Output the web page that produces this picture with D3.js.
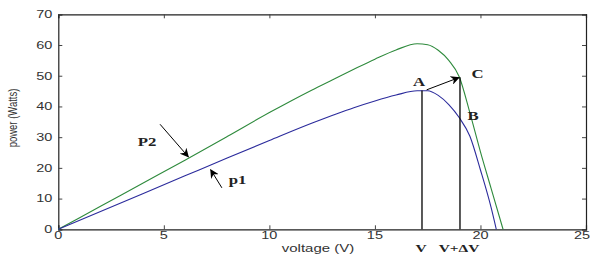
<!DOCTYPE html>
<html><head><meta charset="utf-8">
<script src="https://cdn.jsdelivr.net/npm/d3@7"></script>
<style>html,body{margin:0;padding:0;background:#fff;}</style>
</head><body>
<svg id="chart" width="590" height="254"></svg>
<script>
// Data
const voltageP1 = [0,2,4,6,8,10,12,13,14,15,16,17,17.5,18,18.5,19,19.5,20,20.5,20.75];
const powerP1   = [0,5.8,11.6,17.4,23.2,28.9,34.5,37.1,39.6,41.8,43.7,45.1,45.1,43.6,40.6,36.3,30.3,19.3,7.2,0];
const voltageP2 = [0,2,4,6,8,10,12,13,14,15,16,17,17.5,18,18.5,19,19.5,20,20.5,21.07];
const powerP2   = [0,7.5,15,22.5,30.2,38,45.3,48.7,52.1,55.4,58.4,60.4,60.1,58.3,55,49.6,37.9,25.2,13.4,0];
const xTicks = [0,5,10,15,20,25];
const yTicks = [0,10,20,30,40,50,60,70];
const V = 17.23, VdV = 19.03;
const A = [17.23, 45.2], C = [19.03, 49.5], B = [19.03, 36.3];

const svg = d3.select("#chart");
const x = d3.scaleLinear().domain([0,25]).range([58.3,586]);
const y = d3.scaleLinear().domain([0,70]).range([229.3,14.3]);
const green = "#2e8a3c", blue = "#2b2b9c";
const SX = 1.45; // horizontal stretch of the source picture's text

const defs = svg.append("defs");
defs.append("marker").attr("id","ah").attr("viewBox","0 0 10 10")
  .attr("refX",9).attr("refY",5).attr("markerWidth",9).attr("markerHeight",9)
  .attr("markerUnits","userSpaceOnUse").attr("orient","auto")
  .append("path").attr("d","M0,0 L10,5 L0,10 L3,5 Z").attr("fill","#000");

// axes (MATLAB style, inward ticks on all sides)
const ax = svg.append("g").attr("transform",`translate(0,${y(0)})`)
  .call(d3.axisBottom(x).tickValues(xTicks).tickSize(-4).tickFormat(""));
const axT = svg.append("g").attr("transform",`translate(0,${y(70)})`)
  .call(d3.axisTop(x).tickValues(xTicks).tickSize(-4).tickFormat(""));
const ay = svg.append("g").attr("transform",`translate(${x(0)},0)`)
  .call(d3.axisLeft(y).tickValues(yTicks).tickSize(-4).tickFormat(""));
const ayR = svg.append("g").attr("transform",`translate(${x(25)},0)`)
  .call(d3.axisRight(y).tickValues(yTicks).tickSize(-4).tickFormat(""));
[ax,axT,ay,ayR].forEach(g=>{
  g.select(".domain").attr("stroke","#222").attr("stroke-width",1.2);
  g.selectAll(".tick line").attr("stroke","#444");
});

// stretched text helper
function stext(t,px,py,opts){
  const o = Object.assign({size:10.5,family:"'Liberation Sans', Arial, sans-serif",anchor:"middle",fill:"#333",sx:SX,weight:"normal"},opts||{});
  return svg.append("text").attr("transform",`translate(${px},${py}) scale(${o.sx},1)`)
    .attr("text-anchor",o.anchor).style("font-family",o.family).style("font-size",o.size+"px")
    .style("font-weight",o.weight).attr("fill",o.fill).text(t);
}
// tick labels
xTicks.forEach(v=>{
  const px = v===25 ? x(v)-4 : x(v);
  stext(d3.format("d")(v), px, y(0)+10, {size:10});
});
yTicks.forEach(v=>{
  stext(d3.format("d")(v), x(0)-6, y(v)+3.8, {size:10, anchor:"end"});
});

// curves
const line = d3.line().x(d=>x(d[0])).y(d=>y(d[1])).curve(d3.curveMonotoneX);
svg.append("path").datum(voltageP2.map((v,i)=>[v,powerP2[i]]))
  .attr("d",line).attr("fill","none").attr("stroke",green).attr("stroke-width",1.1);
svg.append("path").datum(voltageP1.map((v,i)=>[v,powerP1[i]]))
  .attr("d",line).attr("fill","none").attr("stroke",blue).attr("stroke-width",1.1);

// vertical lines
svg.append("line").attr("x1",x(V)).attr("x2",x(V)).attr("y1",y(0)).attr("y2",y(A[1]))
  .attr("stroke","#000").attr("stroke-width",1.3);
svg.append("line").attr("x1",x(VdV)).attr("x2",x(VdV)).attr("y1",y(0)).attr("y2",y(C[1]))
  .attr("stroke","#000").attr("stroke-width",1.3);

// arrows
function arrow(x1,y1,x2,y2){
  svg.append("line").attr("x1",x(x1)).attr("y1",y(y1)).attr("x2",x(x2)).attr("y2",y(y2))
    .attr("stroke","#000").attr("stroke-width",1).attr("marker-end","url(#ah)");
}
arrow(17.45,45.4,18.98,49.4);
arrow(4.82,34.2,6.16,23.6);
arrow(7.75,13.5,7.22,19.4);

// annotation labels
const serif = "'Liberation Serif','Times New Roman',serif";
const ann = {size:12, family:serif, fill:"#222", weight:"bold", sx:1.4};
stext("P2",147,146,ann);
stext("p1",237.5,184,ann);
stext("A",419,86,ann);
stext("C",477.5,78,ann);
stext("B",473,120,ann);
stext("V",421,251.5,Object.assign({},ann,{size:11}));
stext("V+\u0394V",459,251.5,Object.assign({},ann,{size:11}));

// axis titles
stext("voltage (V)",318,252,{size:10, sx:1.5});
svg.append("text").attr("transform","translate(17,118) rotate(-90) scale(1,1.3)").attr("text-anchor","middle")
  .style("font","9.5px 'Liberation Sans', Arial, sans-serif").attr("fill","#333").text("power (Watts)");
</script>
</body></html>
